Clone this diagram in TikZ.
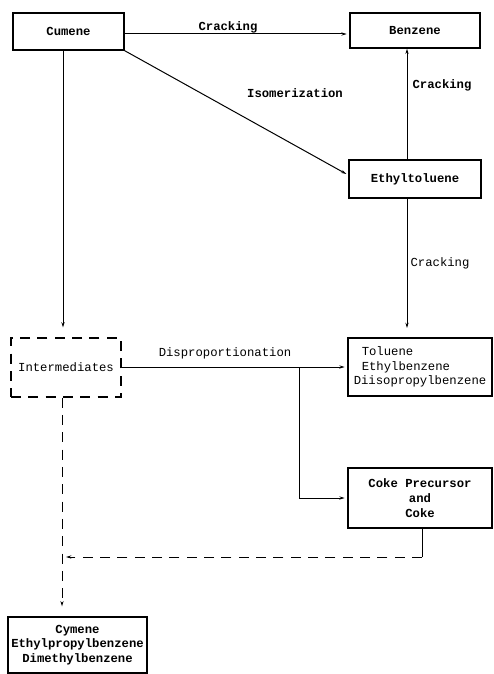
\documentclass[tikz,border=0pt]{standalone}
\usepackage{fontspec}
\setmonofont{Liberation Mono}
\usetikzlibrary{arrows.meta,calc}
\begin{document}
\begin{tikzpicture}[x=0.75pt,y=-0.75pt,
  font=\ttfamily\fontsize{9.2}{11}\selectfont,
  box/.style={draw, line width=1pt, inner sep=0pt, align=center},
  bf/.style={font=\ttfamily\bfseries\fontsize{9.2}{11}\selectfont},
  lbl/.style={inner sep=1pt},
  arr/.style={line width=0.75pt, -{Stealth[length=4pt,width=2.4pt]}},
  dsh/.style={dash pattern=on 7.5pt off 5.5pt}]
\useasboundingbox (0,0) rectangle (493,674);
% helper coordinates
\coordinate (cx) at (63,0);
\coordinate (ex) at (407,0);
\coordinate (ix) at (62,0);
\coordinate (kx) at (422,0);
\coordinate (bx) at (299,0);
\coordinate (dy) at (0,557);
\coordinate (cry) at (0,34);
\coordinate (dpy) at (0,367);
% boxes
\node[box, bf, minimum width=83.25pt, minimum height=27.75pt] (cumene) at (68.5,31.5) {Cumene};
\node[box, bf, minimum width=97.5pt, minimum height=26.25pt] (benzene) at (415,30.5) {Benzene};
\node[box, bf, minimum width=99pt, minimum height=28.5pt] (ethyl) at (415,179) {Ethyltoluene};
\node[box, dsh, line width=0.8pt, minimum width=82.5pt, minimum height=44.25pt] (inter) at (66,367.5) {Intermediates};
\node[box, align=left, minimum width=108pt, minimum height=43.5pt] (toluene) at (420,367)
  {\hspace*{6pt}Toluene\\\hspace*{6pt}Ethylbenzene\\Diisopropylbenzene};
\node[box, bf, minimum width=108pt, minimum height=45pt] (coke) at (420,498)
  {Coke Precursor\\and\\Coke};
\node[box, bf, minimum width=104.25pt, minimum height=42pt] (cymene) at (77.5,645)
  {Cymene\\Ethylpropylbenzene\\Dimethylbenzene};
% labels
\node[lbl, bf] (l1) at (228,27) {Cracking};
\node[lbl, bf] (l2) at (295,93) {Isomerization};
\node[lbl, bf] (l3) at (442,85) {Cracking};
\node[lbl] (l4) at (440,263) {Cracking};
\node[lbl] (l5) at (225,353) {Disproportionation};
% connectors
\draw[arr, shorten >=2pt] (cumene.east |- cry) -- (benzene.west |- cry);
\draw[arr] (cumene.south east) -- ($(ethyl.west)+(-2,-5)$);
\draw[arr] (ethyl.north -| ex) -- (benzene.south -| ex);
\draw[arr, shorten >=7.5pt] (cumene.south -| cx) -- (inter.north -| cx);
\draw[arr, shorten >=7pt] (ethyl.south -| ex) -- (toluene.north -| ex);
\draw[arr, shorten >=2pt] (inter.east |- dpy) -- (toluene.west |- dpy);
\draw[arr, shorten >=2pt] (bx |- dpy) |- (coke.west);
\draw[arr, dsh, shorten >=7.5pt] (inter.south -| ix) -- (cymene.north -| ix);
\draw[line width=0.75pt] (coke.south -| kx) -- (kx |- dy);
\draw[arr, dsh] (kx |- dy) -- ($(ix |- dy)+(4,0)$);
\end{tikzpicture}
\end{document}
